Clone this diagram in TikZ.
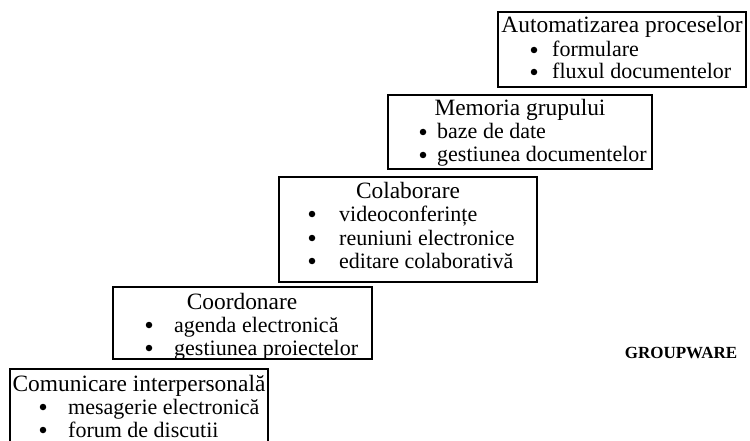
\documentclass[tikz,border=0pt]{standalone}
\usepackage{fontspec}
\setmainfont{Liberation Serif}
\begin{document}
\begin{tikzpicture}[x=1pt,y=-1pt,
  box/.style={draw=black,line width=1.3pt},
  ttl/.style={anchor=base,inner sep=0pt,font=\fontsize{23.4}{26}\selectfont},
  itm/.style={anchor=base west,inner sep=0pt,font=\fontsize{22}{24}\selectfont},
  blt/.style={circle,fill=black,inner sep=0pt,minimum size=6.5pt}]
\useasboundingbox (0,0) rectangle (750,441);
\clip (0,0) rectangle (750,441);
% boxes
\draw[box] (10,369) rectangle (268,460);
\draw[box] (113,287) rectangle (372,359);
\draw[box] (279,177) rectangle (537,282);
\draw[box] (388,95) rectangle (652,169);
\draw[box] (498,12) rectangle (746,87);
% box 1
\node[ttl] (t1) at (139,391) {Comunicare interpersonală};
\node[blt] (p11) at (43,407) {};
\node[itm] (i11) at (68,414) {mesagerie electronică};
\node[blt] (p12) at (43,430) {};
\node[itm] (i12) at (68,437) {forum de discutii};
% box 2
\node[ttl] (t2) at (242,309) {Coordonare};
\node[blt] (p21) at (149,325) {};
\node[itm] (i21) at (174,332) {agenda electronică};
\node[blt] (p22) at (149,348) {};
\node[itm] (i22) at (174,355) {gestiunea proiectelor};
% box 3
\node[ttl] (t3) at (408,198) {Colaborare};
\node[blt] (p31) at (312,214) {};
\node[itm] (i31) at (339,221) {videoconferințe};
\node[blt] (p32) at (312,238) {};
\node[itm] (i32) at (339,245) {reuniuni electronice};
\node[blt] (p33) at (312,261) {};
\node[itm] (i33) at (339,268) {editare colaborativă};
% box 4
\node[ttl] (t4) at (520,116) {Memoria grupului};
\node[blt] (p41) at (423,132) {};
\node[itm] (i41) at (437,139) {baze de date};
\node[blt] (p42) at (423,155) {};
\node[itm] (i42) at (437,162) {gestiunea documentelor};
% box 5
\node[ttl] (t5) at (622,33) {Automatizarea proceselor};
\node[blt] (p51) at (534,50) {};
\node[itm] (i51) at (552,57) {formulare};
\node[blt] (p52) at (534,72) {};
\node[itm] (i52) at (552,79) {fluxul documentelor};
% label
\node[anchor=base,inner sep=0pt,font=\fontsize{17}{20}\selectfont\bfseries] (gw) at (681,358) {GROUPWARE};
\end{tikzpicture}
\end{document}
